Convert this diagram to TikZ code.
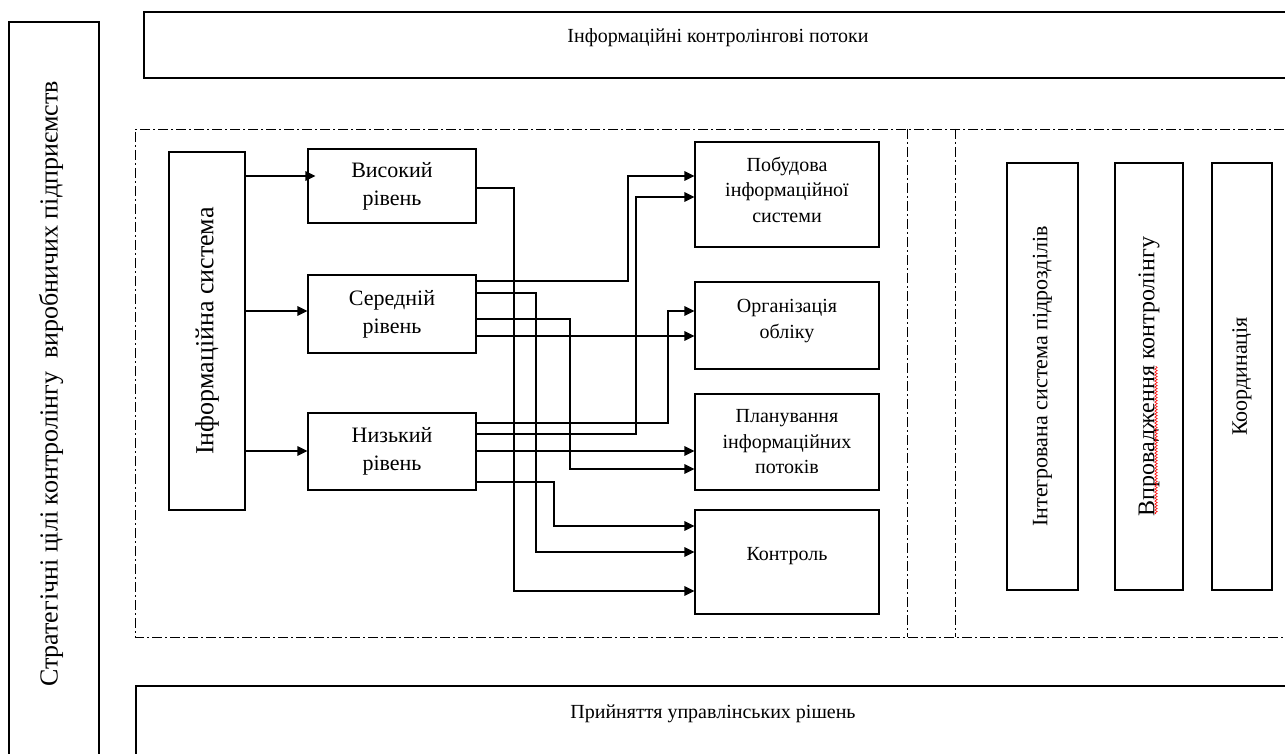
\documentclass[tikz,border=0pt]{standalone}
\usepackage{fontspec}
\setmainfont{Liberation Serif}
\usetikzlibrary{arrows.meta,decorations.pathmorphing}
% pad a box below so that it sits higher when centred in its node
\newcommand{\padbelow}[2]{\raisebox{0pt}[\height][\dimexpr\depth+#1\relax]{#2}}
\begin{document}
\begin{tikzpicture}[x=1pt,y=-1pt,
  txt/.style={font=\fontsize{20}{25.5}\selectfont, align=center, inner sep=0pt},
  bigtxt/.style={font=\fontsize{26}{32}\selectfont},
  midtxt/.style={font=\fontsize{22}{28}\selectfont},
  box/.style={draw, line width=1.1pt, rectangle, inner sep=0pt, txt},
  frame/.style={draw, line width=1.1pt},
  dashdot/.style={line width=0.8pt, dash pattern=on 10pt off 3pt on 2pt off 3pt},
  arr/.style={line width=1.1pt, -{Triangle[length=10pt,width=9.5pt]}},
  link/.style={line width=1.1pt}
]
\useasboundingbox (0,0) rectangle (1285,754);

% outer frames (partly running off the page)
\draw[frame] (9,22) rectangle (99,790);
\node[txt, bigtxt, rotate=90] (goal) at (51,384) {Стратегічні цілі контролінгу\ \ виробничих підприємств};

\draw[frame, line width=1.6pt] (144,12) rectangle (1320,78);
\node[txt] (flows) at (718,38) {Інформаційні контролінгові потоки};

\draw[frame, line width=1.6pt] (136,686) rectangle (1320,790);
\node[txt] (decide) at (713,714) {Прийняття управлінських рішень};

% dash-dotted area with two separators
\draw[dashdot] (1320,129) -- (135,129) -- (135,637) -- (1320,637);
\draw[dashdot] (907,129) -- (907,637);
\draw[dashdot] (955,129) -- (955,637);

% information system and its levels
\node[box, bigtxt, minimum width=76pt, minimum height=358pt] (is) at (207,331) {\rotatebox{90}{Інформаційна система}};

\node[box, midtxt, minimum width=168pt, minimum height=74pt] (vys) at (392,186) {Високий\\рівень};
\node[box, midtxt, minimum width=168pt, minimum height=78pt] (ser) at (392,314) {Середній\\рівень};
\node[box, midtxt, minimum width=168pt, minimum height=77pt] (niz) at (392,451.5) {Низький\\рівень};

% target tasks
\node[box, minimum width=184pt, minimum height=105pt] (pob) at (787,194.5) {\padbelow{6pt}{\begin{tabular}{@{}c@{}}Побудова\\інформаційної\\системи\end{tabular}}};
\node[box, minimum width=184pt, minimum height=87pt] (org) at (787,325.5) {\padbelow{10pt}{\begin{tabular}{@{}c@{}}Організація\\обліку\end{tabular}}};
\node[box, minimum width=184pt, minimum height=96pt] (plan) at (787,442) {Планування\\інформаційних\\потоків};
\node[box, minimum width=184pt, minimum height=104pt] (kontr) at (787,562) {\padbelow{11pt}{Контроль}};

% right column
\node[box, midtxt, minimum width=71pt, minimum height=427pt] (integ) at (1042.5,376.5) {\rotatebox{90}{Інтегрована система підрозділів}};
\node[box, font=\fontsize{24}{28}\selectfont, minimum width=68pt, minimum height=427pt] (vpr) at (1149,376.5) {\rotatebox{90}{Впровадження контролінгу}};
\node[box, midtxt, minimum width=60pt, minimum height=427pt] (koord) at (1242,376.5) {\rotatebox{90}{Координація}};
\draw[red, line width=0.6pt, decorate, decoration={snake, amplitude=1.2pt, segment length=3pt}] (1156,514) -- (1156,366);

% system to levels
\draw[arr] (is.east |- 0,176) -- ([xshift=8pt]vys.west |- 0,176);
\draw[arr] (is.east |- 0,311) -- (ser.west |- 0,311);
\draw[arr] (is.east |- 0,451) -- (niz.west |- 0,451);

% levels to tasks
\draw[arr] (vys.east |- 0,188) -| (514,591) -- (kontr.west |- 0,591);
\draw[arr] (ser.east |- 0,281) -| (628,176) -- (pob.west |- 0,176);
\draw[arr] (ser.east |- 0,293) -| (536,552) -- (kontr.west |- 0,552);
\draw[arr] (ser.east |- 0,319) -| (570,469) -- (plan.west |- 0,469);
\draw[arr] (ser.east |- 0,336) -- (org.west |- 0,336);
\draw[arr] (niz.east |- 0,423) -| (668,311) -- (org.west |- 0,311);
\draw[arr] (niz.east |- 0,434) -| (636,197) -- (pob.west |- 0,197);
\draw[arr] (niz.east |- 0,451) -- (plan.west |- 0,451);
\draw[arr] (niz.east |- 0,482) -| (554,526) -- (kontr.west |- 0,526);
\end{tikzpicture}
\end{document}
